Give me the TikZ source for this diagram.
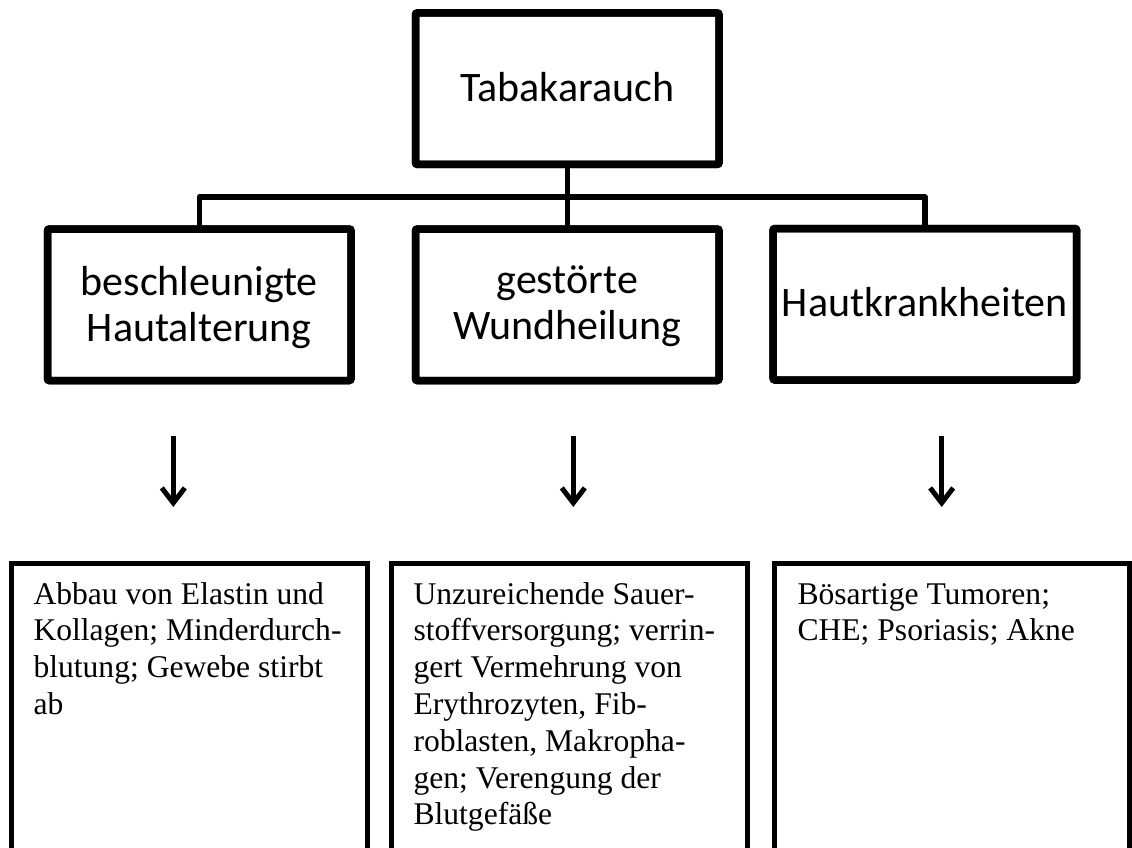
\documentclass[tikz,border=0pt]{standalone}
\usepackage{fontspec}
\setmainfont{Liberation Serif}
\newfontfamily\calib{Carlito}
\usetikzlibrary{arrows.meta,shadows}
\begin{document}
\begin{tikzpicture}[x=1pt,y=-1pt,
  topbox/.style={draw, line width=7.5pt, fill=white, rounded corners=2pt,
    minimum width=303.5pt, minimum height=151.5pt, inner sep=0pt, outer sep=0pt,
    drop shadow={shadow xshift=1.5pt, shadow yshift=-3pt, opacity=0.15, fill=black}},
  boxline/.style={line width=7.5pt, rounded corners=2pt},
  bottombox/.style={draw, line width=5pt, fill=white, minimum width=355.7pt,
    minimum height=340pt, inner sep=0pt, outer sep=0pt, anchor=north west},
  headtext/.style={font=\calib\fontsize{42}{46}\selectfont, inner sep=0pt, anchor=base},
  bodytext/.style={font=\fontsize{31.6}{36.8}\selectfont, inner sep=0pt, anchor=base west},
  link/.style={line width=5.5pt, line join=round},
  down/.style={line width=5pt, -{Straight Barb[length=15pt, width=23pt]}},
]
\useasboundingbox (0,0) rectangle (1132,847);
\clip (0,0) rectangle (1132,847);

% upper boxes
\coordinate (j) at (567.5,197);
\node[topbox] (top) at (567.25,88.65) {};
\node[topbox] (h1) at (199.25,304.75) {};
\node[topbox] (h2) at (567.25,304.75) {};
\node[topbox] (h3) at (924.85,304.25) {};

% connectors
\draw[link] (top.south) -- (h2.north);
\draw[link] (h1.north) -- (h1.north |- j) -- (h3.north |- j) -- (h3.north);
% box borders over connector ends
\draw[boxline] (top.north west) rectangle (top.south east);
\draw[boxline] (h1.north west) rectangle (h1.south east);
\draw[boxline] (h2.north west) rectangle (h2.south east);
\draw[boxline] (h3.north west) rectangle (h3.south east);

\node[headtext] (tt) at (567.25,101.7) {Tabakarauch};
\node[headtext] (t1) at (199.25,295) {\parbox[t]{300pt}{\centering beschleunigte\\Hautalterung}};
\node[headtext] (t2) at (567.25,293.5) {\parbox[t]{300pt}{\centering gestörte\\Wundheilung}};
\node[headtext] (t3) at (924.85,316.7) {Hautkrankheiten};

% arrows
\coordinate (a1s) at (173.3,436); \coordinate (a1e) at (173.3,507);
\coordinate (a2s) at (573.3,436); \coordinate (a2e) at (573.3,507);
\coordinate (a3s) at (941.7,436); \coordinate (a3e) at (941.7,507);
\draw[down] (a1s) -- (a1e);
\draw[down] (a2s) -- (a2e);
\draw[down] (a3s) -- (a3e);

% lower boxes
\node[bottombox] (b1) at (11.3,563) {};
\node[bottombox] (b2) at (391.3,563) {};
\node[bottombox] (b3) at (774,563.3) {};

\node[bodytext] (x1) at (33.3,604) {\parbox[t]{330pt}{\raggedright
  Abbau von Elastin und\\Kollagen; Minderdurch-\\blutung; Gewebe stirbt\\ab}};
\node[bodytext] (x2) at (413.3,604) {\parbox[t]{330pt}{\raggedright
  Unzureichende Sauer-\\stoffversorgung; verrin-\\gert Vermehrung von\\Erythrozyten, Fib-\\roblasten, Makropha-\\gen; Verengung der\\Blutgefäße}};
\node[bodytext] (x3) at (797.3,604) {\parbox[t]{330pt}{\raggedright
  Bösartige Tumoren;\\CHE; Psoriasis; Akne}};
\end{tikzpicture}
\end{document}
